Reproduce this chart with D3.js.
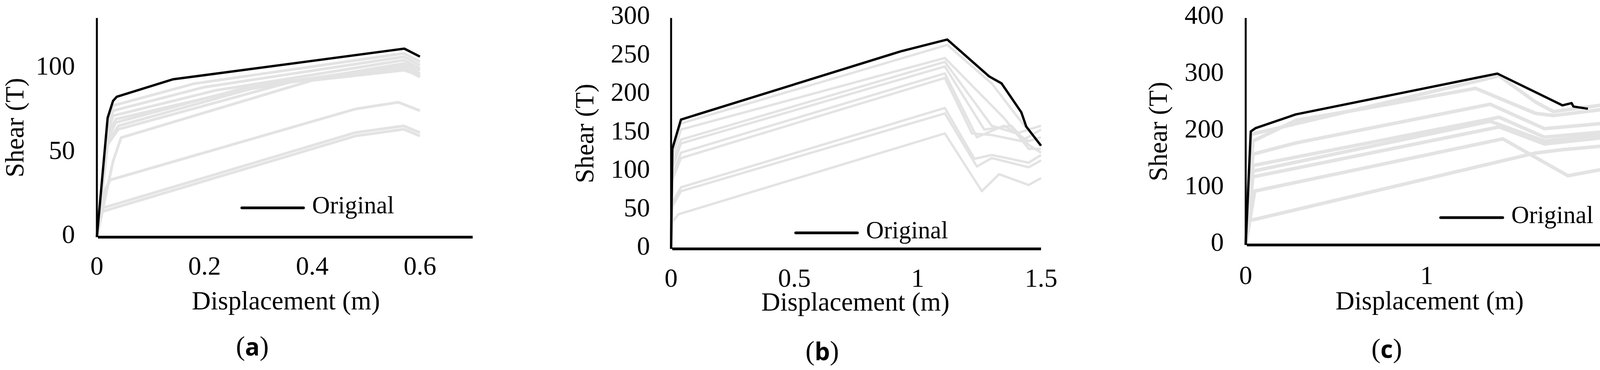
<!DOCTYPE html>
<html><head><meta charset="utf-8">
<script src="https://cdn.jsdelivr.net/npm/d3@7"></script>
<style>body{margin:0;background:#fff}svg text{font-family:"Liberation Serif","Times New Roman",serif}</style>
</head><body><svg id="c" width="4167" height="947"></svg>
<script>
// ---- data ----
const aXTicks=[0,0.2,0.4,0.6], aYTicks=[0,50,100];
const aBlack=[[0,0],[0.02,70.8],[0.03,80.8],[0.037,83.3],[0.141,93.6],[0.571,111.8],[0.6,107.1]];
const aGray=[
 [[0,0],[0.02,68],[0.03,78],[0.18,91],[0.57,109],[0.6,104]],
 [[0,0],[0.02,65],[0.03,75],[0.2,89],[0.57,107],[0.6,102]],
 [[0,0],[0.02,62],[0.03,72],[0.22,87],[0.57,105],[0.6,100]],
 [[0,0],[0.02,60],[0.035,70],[0.25,86],[0.57,103],[0.6,99]],
 [[0,0],[0.02,58],[0.035,68],[0.28,89],[0.57,102],[0.6,97]],
 [[0,0],[0.02,56],[0.04,66],[0.32,91],[0.57,101],[0.6,96]],
 [[0,0],[0.02,55],[0.04,64],[0.36,92],[0.57,100],[0.6,95]],
 [[0,0],[0.03,45],[0.045,59],[0.4,93],[0.57,99],[0.6,96]],
 [[0,0],[0.015,28],[0.025,34],[0.48,76],[0.56,80],[0.6,75]],
 [[0,0],[0.008,17],[0.48,62],[0.57,66],[0.6,62]],
 [[0,0],[0.008,15],[0.48,60],[0.57,64],[0.6,60]]
];
const bXTicks=[0,0.5,1,1.5], bYTicks=[0,50,100,150,200,250,300];
const bBlack=[[0,0],[0.005,130],[0.04,168],[0.93,256.5],[1.12,272],[1.29,224],[1.34,215],[1.42,177.5],[1.44,159],[1.5,134]];
const bGray=[
 [[0,0],[0.005,125],[0.04,163],[1.12,265],[1.3,215],[1.42,165],[1.5,135]],
 [[0,0],[0.005,120],[0.04,155],[1.11,248],[1.35,170],[1.45,130],[1.5,130]],
 [[0,0],[0.005,110],[0.04,142],[1.11,243],[1.3,160],[1.4,150],[1.5,160]],
 [[0,0],[0.005,105],[0.04,137],[1.11,237],[1.27,155],[1.38,160],[1.45,135],[1.5,125]],
 [[0,0],[0.005,95],[0.04,125],[1.11,228],[1.24,145],[1.35,160],[1.45,140],[1.5,145]],
 [[0,0],[0.005,90],[0.04,118],[1.11,222],[1.22,150],[1.3,148],[1.42,140],[1.5,155]],
 [[0,0],[0.005,60],[0.04,80],[1.11,183],[1.23,117],[1.3,122],[1.45,112],[1.5,122]],
 [[0,0],[0.005,55],[0.04,75],[1.11,176],[1.24,107],[1.3,118],[1.45,106],[1.5,115]],
 [[0,0],[0.005,35],[0.03,45],[1.11,150],[1.26,75],[1.33,97],[1.45,83],[1.5,92]]
];
const cXTicks=[0,1,2], cYTicks=[0,100,200,300,400];
const cBlack=[[0,0],[0.028,200],[0.055,206],[0.276,230],[1.39,302],[1.75,246],[1.8,250],[1.81,244],[1.89,240]];
const cGray=[
 [[0,0],[0.03,195],[1.4,298],[1.6,252],[1.7,235],[2,248]],
 [[0,0],[0.04,183],[0.28,220],[0.65,240],[1.27,276],[1.6,232],[1.7,228],[2,240]],
 [[0,0],[0.04,160],[0.28,180],[1.35,248],[1.65,205],[2,215]],
 [[0,0],[0.04,140],[1.4,225],[1.65,190],[2,200]],
 [[0,0],[0.04,130],[1.35,218],[1.65,183],[2,195]],
 [[0,0],[0.04,120],[1.4,208],[1.65,178],[2,190]],
 [[0,0],[0.05,95],[1.42,187],[1.78,122],[2,135]],
 [[0,0],[0.01,42],[1.6,162],[1.75,168],[2,175]]
];
const labels=["a","b","c"];
// ---- layout ----
const panels=[
 {xt:aXTicks,yt:aYTicks,xmax:0.7,ymax:130,x0:248,x1:1210,xTickEnd:1075,xTickVal:0.6,y0:607,y1:46,blk:aBlack,gry:aGray,gw:7,xtY:688,ylR:192,shX:45,titleX:732,titleY:777,labX:646,labY:893,lg:[619,777,532]},
 {xt:bXTicks,yt:bYTicks,xmax:1.5,ymax:300,x0:1718,x1:2665,y0:637,y1:46,blk:bBlack,gry:bGray,gw:6,xtY:719,ylR:1664,shX:1504,titleX:2190,titleY:780,labX:2105,labY:905,lg:[2037,2195,596]},
 {xt:cXTicks,yt:cYTicks,xmax:2,ymax:400,x0:3189,x1:4116,y0:627,y1:46,blk:cBlack,gry:cGray,gw:9,xtY:712,ylR:3133,shX:2972,titleX:3660,titleY:777,labX:3550,labY:899,lg:[3688,3847,557]}
];
const FS=67;
const svg=d3.select("#c");
panels.forEach((p,i)=>{
 let xr=[p.x0,p.x1];
 if(p.xTickEnd){ const k=(p.xTickEnd-p.x0)/p.xTickVal; xr=[p.x0,p.x0+k*p.xmax]; }
 const x=d3.scaleLinear().domain([0,p.xmax]).range(xr);
 const y=d3.scaleLinear().domain([0,p.ymax]).range([p.y0,p.y1]);
 const g=svg.append("g");
 const line=d3.line().x(d=>x(d[0])).y(d=>y(d[1]));
 p.gry.forEach(s=>g.append("path").attr("d",line(s)).attr("fill","none").attr("stroke","#e3e3e3").attr("stroke-width",p.gw).attr("stroke-linejoin","round"));
 g.append("path").attr("d",line(p.blk)).attr("fill","none").attr("stroke","#000").attr("stroke-width",6).attr("stroke-linejoin","round");
 g.append("line").attr("x1",p.x0).attr("x2",p.x0).attr("y1",p.y1).attr("y2",p.y0).attr("stroke","#000").attr("stroke-width",5);
 g.append("line").attr("x1",p.x0+3).attr("x2",p.x1).attr("y1",p.y0).attr("y2",p.y0).attr("stroke","#000").attr("stroke-width",7);
 p.xt.forEach(t=>g.append("text").attr("x",x(t)).attr("y",p.xtY).attr("text-anchor","middle").attr("dominant-baseline","middle").attr("font-size",FS).text(t));
 p.yt.forEach(t=>g.append("text").attr("x",p.ylR).attr("y",y(t)).attr("text-anchor","end").attr("dominant-baseline","middle").attr("font-size",FS).text(t));
 g.append("text").attr("transform",`translate(${p.shX},${(p.y0+p.y1)/2}) rotate(-90)`).attr("text-anchor","middle").attr("dominant-baseline","middle").attr("font-size",FS).text("Shear (T)");
 g.append("text").attr("x",p.titleX).attr("y",p.titleY).attr("text-anchor","middle").attr("dominant-baseline","middle").attr("font-size",FS).text("Displacement (m)");
 const lt=g.append("text").attr("x",p.labX).attr("y",p.labY).attr("text-anchor","middle").attr("dominant-baseline","middle").attr("font-size",70);
 lt.append("tspan").text("(");lt.append("tspan").attr("font-weight","bold").attr("font-family","'Open Sans',sans-serif").attr("font-size",62).text(labels[i]);lt.append("tspan").text(")");
 g.append("line").attr("x1",p.lg[0]).attr("x2",p.lg[1]).attr("y1",p.lg[2]).attr("y2",p.lg[2]).attr("stroke","#000").attr("stroke-width",7).attr("stroke-linecap","round");
 g.append("text").attr("x",p.lg[1]+22).attr("y",p.lg[2]).attr("dominant-baseline","middle").attr("font-size",63).text("Original");
});
</script></body></html>
